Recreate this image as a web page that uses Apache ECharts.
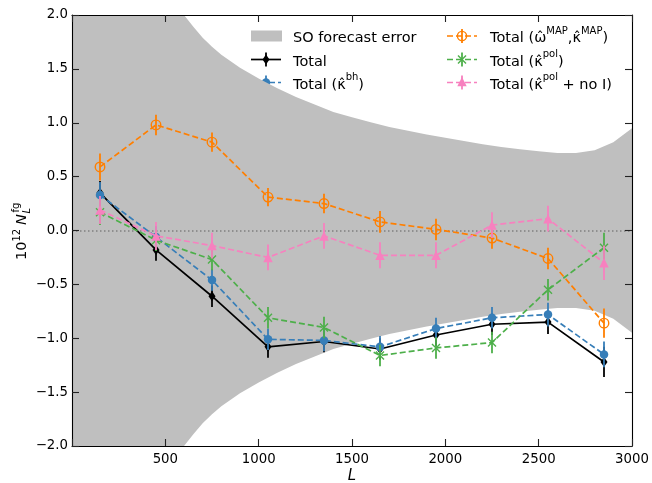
<!DOCTYPE html>
<html>
<head>
<meta charset="utf-8">
<script src="https://cdn.jsdelivr.net/npm/echarts@6/dist/echarts.min.js"></script>
<style>html,body{margin:0;padding:0;background:#fff}#c{width:652px;height:483px}</style>
</head>
<body>
<div id="c"></div>
<script>
// ---- data ----
const L = [150, 450, 750, 1050, 1350, 1650, 1950, 2250, 2550, 2850];
const total      = [0.35, -0.18, -0.61, -1.08, -1.03, -1.10, -0.97, -0.87, -0.85, -1.22];
const totalErr   = [0.11, 0.10, 0.10, 0.10, 0.10, 0.10, 0.10, 0.10, 0.11, 0.14];
const kbh        = [0.33, -0.06, -0.46, -1.01, -1.02, -1.08, -0.91, -0.81, -0.78, -1.15];
const kbhErr     = [0.12, 0.10, 0.10, 0.10, 0.10, 0.10, 0.10, 0.10, 0.11, 0.12];
const kmap       = [0.59, 0.98, 0.82, 0.31, 0.25, 0.08, 0.01, -0.07, -0.26, -0.86];
const kmapErr    = [0.125, 0.095, 0.09, 0.085, 0.09, 0.10, 0.10, 0.10, 0.10, 0.135];
const kpol       = [0.17, -0.09, -0.27, -0.81, -0.90, -1.16, -1.09, -1.04, -0.55, -0.16];
const kpolErr    = [0.12, 0.10, 0.10, 0.10, 0.10, 0.10, 0.10, 0.10, 0.10, 0.14];
const kpolNoI    = [0.19, -0.05, -0.14, -0.25, -0.05, -0.23, -0.23, 0.05, 0.11, -0.30];
const kpolNoIErr = [0.13, 0.13, 0.12, 0.12, 0.12, 0.12, 0.12, 0.12, 0.12, 0.16];

// SO forecast error band (symmetric, +/- sigma)
const bandL     = [0, 100, 200, 300, 400, 500, 550, 600, 650, 700, 750, 800, 900, 1000, 1100, 1200, 1300, 1400, 1500, 1600, 1700, 1800, 1900, 2000, 2100, 2200, 2300, 2400, 2500, 2600, 2700, 2800, 2900, 3000];
const bandSigma = [12, 8, 5.5, 4.0, 2.9, 2.3, 2.13, 2.0, 1.89, 1.79, 1.705, 1.63, 1.51, 1.41, 1.32, 1.24, 1.17, 1.10, 1.05, 1.005, 0.96, 0.925, 0.89, 0.86, 0.83, 0.80, 0.775, 0.755, 0.735, 0.72, 0.72, 0.745, 0.82, 0.95];

const xTicks = [0, 500, 1000, 1500, 2000, 2500, 3000];
const yTicks = [-2.0, -1.5, -1.0, -0.5, 0.0, 0.5, 1.0, 1.5, 2.0];

const FONT = 'DejaVu Sans';
const C = {black: '#000000', blue: '#377eb8', orange: '#ff7f00', green: '#4daf4a', pink: '#f781bf', band: '#bfbfbf'};

const chart = echarts.init(document.getElementById('c'), null, {renderer: 'canvas'});

const LW = 1.7;
function errSeries(vals, errs, color, z) {
  return {
    type: 'custom', z: z, silent: true, clip: true,
    data: L.map((l, i) => [l, vals[i], errs[i]]),
    encode: {x: 0, y: 1},
    renderItem: (params, api) => {
      const x = api.value(0), y = api.value(1), e = api.value(2);
      const p1 = api.coord([x, y - e]), p2 = api.coord([x, y + e]);
      return {type: 'line', shape: {x1: p1[0], y1: p1[1], x2: p2[0], y2: p2[1]},
              style: {stroke: color, lineWidth: 1.8}};
    }
  };
}
function lineSeries(vals, color, dashed, symbol, size, itemStyle, z, extra) {
  return Object.assign({
    type: 'line', z: z, silent: true,
    data: L.map((l, i) => [l, vals[i]]),
    symbol: symbol, symbolSize: size, showSymbol: true, showAllSymbol: true,
    lineStyle: {color: color, width: LW, type: dashed ? [6, 3] : 'solid'},
    itemStyle: itemStyle
  }, extra || {});
}

const series = [
  {
    type: 'custom', z: 1, silent: true, clip: true,
    data: bandL.map((l, i) => [l, bandSigma[i]]),
    encode: {x: 0, y: 1},
    renderItem: (params, api) => {
      if (params.dataIndex !== 0) return null;
      const pts = [];
      for (let i = 0; i < bandL.length; i++) pts.push(api.coord([bandL[i], bandSigma[i]]));
      for (let i = bandL.length - 1; i >= 0; i--) pts.push(api.coord([bandL[i], -bandSigma[i]]));
      return {type: 'polygon', shape: {points: pts}, style: {fill: C.band}};
    }
  },
  errSeries(total, totalErr, C.black, 10),
  lineSeries(total, C.black, false, 'diamond', [7, 10], {color: C.black}, 11, {
    markLine: {silent: true, symbol: 'none', label: {show: false},
      lineStyle: {color: '#808080', width: 1.5, type: [1.5, 2.5]},
      data: [{yAxis: 0}]}
  }),
  errSeries(kbh, kbhErr, C.blue, 12),
  lineSeries(kbh, C.blue, true, 'circle', 8.5, {color: C.blue}, 13),
  errSeries(kmap, kmapErr, C.orange, 14),
  lineSeries(kmap, C.orange, true, 'circle', 9.5, {color: 'rgba(0,0,0,0)', borderColor: C.orange, borderWidth: 1.4}, 15),
  errSeries(kpol, kpolErr, C.green, 16),
  lineSeries(kpol, C.green, true, 'path://M0,0L10,10M10,0L0,10', 8, {color: 'rgba(0,0,0,0)', borderColor: C.green, borderWidth: 1.4}, 17),
  errSeries(kpolNoI, kpolNoIErr, C.pink, 18),
  lineSeries(kpolNoI, C.pink, true, 'triangle', 9.5, {color: C.pink}, 19)
];

// ---- legend (drawn manually, matplotlib style) ----
const legFont = 14.5;
const rich = {
  a: {fontFamily: FONT, fontSize: legFont, lineHeight: 20, verticalAlign: 'bottom', color: '#000'},
  s: {fontFamily: FONT, fontSize: 10, lineHeight: 12, verticalAlign: 'top', color: '#000'}
};
function legIcon(x0, y, color, dashed, marker) {
  const els = [];
  const x1 = x0 + 30, xc = x0 + 15;
  els.push({type: 'line', shape: {x1: x0, y1: y, x2: x1, y2: y},
            style: {stroke: color, lineWidth: LW, lineDash: dashed ? [6, 3] : null}});
  els.push({type: 'line', shape: {x1: xc, y1: y - 7, x2: xc, y2: y + 7}, style: {stroke: color, lineWidth: 1.8}});
  if (marker === 'diamond') els.push({type: 'polygon', shape: {points: [[xc, y - 5], [xc + 3.5, y], [xc, y + 5], [xc - 3.5, y]]}, style: {fill: color}});
  if (marker === 'circle') els.push({type: 'circle', shape: {cx: xc, cy: y, r: 4.2}, style: {fill: color}});
  if (marker === 'ocircle') els.push({type: 'circle', shape: {cx: xc, cy: y, r: 4.6}, style: {fill: null, stroke: color, lineWidth: 1.4}});
  if (marker === 'x') {
    els.push({type: 'line', shape: {x1: xc - 4, y1: y - 4, x2: xc + 4, y2: y + 4}, style: {stroke: color, lineWidth: 1.4}});
    els.push({type: 'line', shape: {x1: xc + 4, y1: y - 4, x2: xc - 4, y2: y + 4}, style: {stroke: color, lineWidth: 1.4}});
  }
  if (marker === 'triangle') els.push({type: 'polygon', shape: {points: [[xc, y - 5.5], [xc + 4.7, y + 3.8], [xc - 4.7, y + 3.8]]}, style: {fill: color}});
  return els;
}
function legText(x, y, txt) {
  return {type: 'text', x: x, y: y, style: {text: txt, rich: rich, verticalAlign: 'middle', align: 'left'}};
}
const lx = 251, rx = 447, ltx = 293, rtx = 490;
const rows = [36, 59.5, 82.5];
const graphics = [
  {type: 'rect', shape: {x: lx, y: 30.5, width: 31, height: 11}, style: {fill: C.band}},
  legText(ltx, rows[0], '{a|SO forecast error}'),
  ...legIcon(lx, rows[1], C.black, false, 'diamond'),
  legText(ltx, rows[1], '{a|Total}'),
  ...legIcon(lx, rows[2], C.blue, true, 'circle'),
  legText(ltx, rows[2], '{a|Total (κ̂}{s|bh}{a|)}'),
  ...legIcon(rx, rows[0], C.orange, true, 'ocircle'),
  legText(rtx, rows[0], '{a|Total (ω̂}{s|MAP}{a|,κ̂}{s|MAP}{a|)}'),
  ...legIcon(rx, rows[1], C.green, true, 'x'),
  legText(rtx, rows[1], '{a|Total (κ̂}{s|pol}{a|)}'),
  ...legIcon(rx, rows[2], C.pink, true, 'triangle'),
  legText(rtx, rows[2], '{a|Total (κ̂}{s|pol}{a| + no I)}'),
  // annotation
  {type: 'text', x: 90.5, y: 52.5, style: {text: 'C + PS cuts', font: '15.8px "' + FONT + '"', fill: '#000', verticalAlign: 'middle', align: 'left'}},
  // x label
  {type: 'text', x: 352, y: 476, style: {text: 'L', font: 'italic 15px "' + FONT + '"', fill: '#000', verticalAlign: 'middle', align: 'center'}},
  // y label (rotated)
  {type: 'group', x: 22, y: 231, rotation: Math.PI / 2, children: [
    {type: 'text', x: -29, y: 0, style: {text: '10', font: '14.5px "' + FONT + '"', fill: '#000', verticalAlign: 'middle', align: 'left'}},
    {type: 'text', x: -10.5, y: -5, style: {text: '12', font: '10px "' + FONT + '"', fill: '#000', verticalAlign: 'middle', align: 'left'}},
    {type: 'text', x: 6, y: 0, style: {text: 'N', font: 'italic 14.5px "' + FONT + '"', fill: '#000', verticalAlign: 'middle', align: 'left'}},
    {type: 'text', x: 18.5, y: -6, style: {text: 'fg', font: '10px "' + FONT + '"', fill: '#000', verticalAlign: 'middle', align: 'left'}},
    {type: 'text', x: 17.5, y: 5, style: {text: 'L', font: 'italic 10px "' + FONT + '"', fill: '#000', verticalAlign: 'middle', align: 'left'}}
  ]}
];

const tickFont = {fontFamily: FONT, fontSize: 13.3, color: '#000'};
const fmtY = v => (v < 0 ? '\u2212' : '') + Math.abs(v).toFixed(1);
const fmtX = v => (v === xTicks[0] ? '' : String(v));
const axisLine = {show: true, onZero: false, lineStyle: {color: '#000', width: 1.1}};
const axisTick = {show: true, inside: true, length: 7, lineStyle: {color: '#222', width: 1.1}};

const option = {
  animation: false,
  backgroundColor: '#fff',
  grid: {left: 72, right: 20, top: 15, bottom: 37, containLabel: false},
  xAxis: [
    {type: 'value', position: 'bottom', min: xTicks[0], max: xTicks[xTicks.length - 1], interval: 500, z: 100,
     axisLine: axisLine, axisTick: axisTick, splitLine: {show: false},
     axisLabel: Object.assign({margin: 7, formatter: fmtX}, tickFont)},
    {type: 'value', position: 'top', min: xTicks[0], max: xTicks[xTicks.length - 1], interval: 500, z: 100,
     axisLine: axisLine, axisTick: axisTick, splitLine: {show: false}, axisLabel: {show: false}}
  ],
  yAxis: [
    {type: 'value', position: 'left', min: yTicks[0], max: yTicks[yTicks.length - 1], interval: 0.5, z: 100,
     axisLine: axisLine, axisTick: axisTick, splitLine: {show: false},
     axisLabel: Object.assign({margin: 4, formatter: fmtY}, tickFont)},
    {type: 'value', position: 'right', min: yTicks[0], max: yTicks[yTicks.length - 1], interval: 0.5, z: 100,
     axisLine: axisLine, axisTick: axisTick, splitLine: {show: false}, axisLabel: {show: false}}
  ],
  series: series,
  graphic: graphics
};
chart.setOption(option);
</script>
</body>
</html>
